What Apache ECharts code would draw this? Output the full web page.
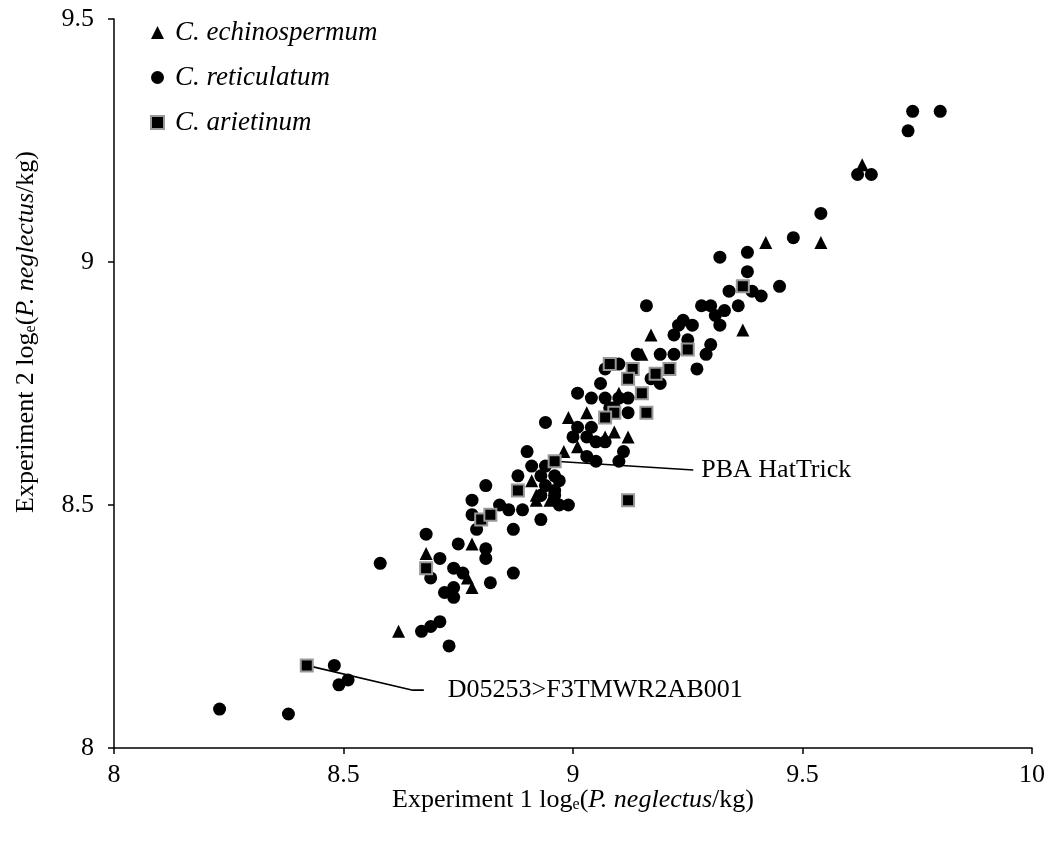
<!DOCTYPE html>
<html>
<head>
<meta charset="utf-8">
<script src="https://cdn.jsdelivr.net/npm/echarts@6/dist/echarts.min.js"></script>
<style>
  html, body { margin: 0; padding: 0; background: #fff; }
  #chart { width: 1054px; height: 843px; }
</style>
</head>
<body>
<div id="chart"></div>
<script>
// Wild and cultivated chickpea accessions: P. neglectus density in two experiments (log_e per kg)
const echinospermum = [
  [9.63, 9.20], [9.54, 9.04], [9.42, 9.04], [9.37, 8.86], [9.17, 8.85], [9.15, 8.81],
  [9.10, 8.73], [8.99, 8.68], [9.03, 8.69], [9.09, 8.65], [9.12, 8.64], [9.07, 8.64],
  [9.01, 8.62], [8.98, 8.61], [8.91, 8.55], [8.92, 8.52], [8.95, 8.51], [8.92, 8.51],
  [8.78, 8.42], [8.68, 8.40], [8.77, 8.35], [8.78, 8.33], [8.62, 8.24]
];

const reticulatum = [
  [9.74, 9.31], [9.80, 9.31], [9.73, 9.27], [9.62, 9.18], [9.65, 9.18], [9.54, 9.10],
  [9.48, 9.05], [9.32, 9.01], [9.38, 9.02], [9.38, 8.98], [9.34, 8.94], [9.39, 8.94],
  [9.41, 8.93], [9.45, 8.95], [9.28, 8.91], [9.30, 8.91], [9.33, 8.90], [9.36, 8.91],
  [9.31, 8.89], [9.32, 8.87], [9.16, 8.91], [9.24, 8.88], [9.23, 8.87], [9.26, 8.87],
  [9.25, 8.84], [9.22, 8.85], [9.30, 8.83], [9.29, 8.81], [9.27, 8.78], [9.19, 8.81],
  [9.22, 8.81], [9.14, 8.81], [9.06, 8.75], [9.01, 8.73], [9.04, 8.72], [9.07, 8.78],
  [9.10, 8.79], [9.19, 8.75], [9.17, 8.76], [9.07, 8.72], [9.10, 8.72], [9.12, 8.72],
  [9.12, 8.69], [9.08, 8.70], [9.09, 8.70], [8.94, 8.67], [9.01, 8.66], [9.04, 8.66],
  [9.00, 8.64], [9.03, 8.64], [9.05, 8.63], [9.07, 8.63], [9.03, 8.60], [9.05, 8.59],
  [9.10, 8.59], [9.11, 8.61], [8.90, 8.61], [8.91, 8.58], [8.94, 8.58], [8.96, 8.56],
  [8.97, 8.55], [8.96, 8.53], [8.96, 8.52], [8.99, 8.50], [8.97, 8.50], [8.93, 8.52],
  [8.94, 8.54], [8.93, 8.56], [8.88, 8.56], [8.81, 8.54], [8.78, 8.51], [8.84, 8.50],
  [8.86, 8.49], [8.89, 8.49], [8.93, 8.47], [8.78, 8.48], [8.79, 8.45], [8.87, 8.45],
  [8.68, 8.44], [8.75, 8.42], [8.81, 8.41], [8.81, 8.39], [8.58, 8.38], [8.71, 8.39],
  [8.69, 8.35], [8.74, 8.37], [8.76, 8.36], [8.87, 8.36], [8.82, 8.34], [8.72, 8.32],
  [8.74, 8.33], [8.74, 8.31], [8.67, 8.24], [8.69, 8.25], [8.71, 8.26], [8.73, 8.21],
  [8.48, 8.17], [8.51, 8.14], [8.49, 8.13], [8.38, 8.07], [8.23, 8.08]
];

const arietinum = [
  [9.37, 8.95], [9.25, 8.82], [9.08, 8.79], [9.13, 8.78], [9.12, 8.76], [9.18, 8.77],
  [9.21, 8.78], [9.15, 8.73], [9.16, 8.69], [9.09, 8.69], [9.07, 8.68], [8.96, 8.59],
  [8.88, 8.53], [9.12, 8.51], [8.80, 8.47], [8.82, 8.48], [8.68, 8.37], [8.42, 8.17]
];

// Leader lines and their captions for the two named lines
const hatTrickLeader = [[8.96, 8.59], [9.262, 8.572]];
const d05253Leader = [[8.42, 8.17], [8.651, 8.119], [8.675, 8.119]];
const hatTrickName = 'PBA HatTrick';
const d05253Name = 'D05253>F3TMWR2AB001';

const xTicks = { min: 8, max: 10, step: 0.5 };
const yTicks = { min: 8, max: 9.5, step: 0.5 };

const serif = '"Liberation Serif", "Times New Roman", serif';
const FONT = 26;

const titleRich = {
  a: { fontFamily: serif, fontSize: FONT, color: '#000', lineHeight: 32, verticalAlign: 'middle' },
  i: { fontFamily: serif, fontSize: FONT, fontStyle: 'italic', color: '#000', lineHeight: 32, verticalAlign: 'middle' },
  s: { fontFamily: serif, fontSize: 16, color: '#000', lineHeight: 32, verticalAlign: 'bottom', padding: [0, 0, 3, 0] }
};

const chart = echarts.init(document.getElementById('chart'), null, { renderer: 'canvas' });

function leaderLine(points) {
  return {
    type: 'line',
    data: points,
    symbol: 'none',
    lineStyle: { color: '#000', width: 1.6 },
    silent: true,
    z: 1
  };
}

function caption(points, text, gap) {
  return {
    type: 'scatter',
    data: [points[points.length - 1]],
    symbolSize: 0,
    silent: true,
    itemStyle: { opacity: 1 },
    label: {
      show: true, position: 'right', distance: gap, formatter: text,
      fontFamily: serif, fontSize: FONT, color: '#000'
    },
    z: 1
  };
}

chart.setOption({
  animation: false,
  backgroundColor: '#fff',
  grid: { left: 114, right: 22, top: 19, bottom: 95 },
  legend: {
    orient: 'vertical',
    left: 145,
    top: 14,
    itemWidth: 13,
    itemHeight: 13,
    itemGap: 18,
    data: ['C. echinospermum', 'C. reticulatum', 'C. arietinum'],
    textStyle: { fontFamily: serif, fontSize: 27, fontStyle: 'italic', color: '#000', padding: [0, 0, 0, 6] }
  },
  xAxis: {
    type: 'value',
    min: xTicks.min, max: xTicks.max, interval: xTicks.step,
    name: '{a|Experiment 1 log}{s|e}{a|(}{i|P. neglectus}{a|/kg)}',
    nameLocation: 'middle',
    nameGap: 36,
    nameMoveOverlap: false,
    nameTextStyle: { rich: titleRich },
    axisLine: { lineStyle: { color: '#000', width: 1.5 } },
    axisTick: { show: true, inside: false, length: 6, lineStyle: { color: '#000', width: 1.5 } },
    axisLabel: { fontFamily: serif, fontSize: FONT, color: '#000', margin: 14 },
    splitLine: { show: false }
  },
  yAxis: {
    type: 'value',
    min: yTicks.min, max: yTicks.max, interval: yTicks.step,
    axisLine: { show: true, lineStyle: { color: '#000', width: 1.5 } },
    axisTick: { show: true, inside: false, length: 6, lineStyle: { color: '#000', width: 1.5 } },
    axisLabel: { fontFamily: serif, fontSize: FONT, color: '#000', margin: 20 },
    splitLine: { show: false }
  },
  graphic: [{
    type: 'text',
    x: 26, y: 332,
    rotation: Math.PI / 2,
    style: {
      text: '{a|Experiment 2 log}{s|e}{a|(}{i|P. neglectus}{a|/kg)}',
      rich: titleRich,
      align: 'center',
      verticalAlign: 'middle'
    }
  }],
  series: [
    leaderLine(hatTrickLeader),
    leaderLine(d05253Leader),
    caption(hatTrickLeader, hatTrickName, 8),
    caption(d05253Leader, d05253Name, 24),
    {
      name: 'C. echinospermum',
      type: 'scatter',
      symbol: 'triangle',
      symbolSize: 13,
      data: echinospermum,
      itemStyle: { color: '#000', opacity: 1 },
      z: 3
    },
    {
      name: 'C. reticulatum',
      type: 'scatter',
      symbol: 'circle',
      symbolSize: 13,
      data: reticulatum,
      itemStyle: { color: '#000', opacity: 1 },
      z: 3
    },
    {
      name: 'C. arietinum',
      type: 'scatter',
      symbol: 'rect',
      symbolSize: 12,
      data: arietinum,
      itemStyle: { color: '#000', borderColor: '#999', borderWidth: 2, opacity: 1 },
      z: 4
    }
  ]
});
</script>
</body>
</html>
